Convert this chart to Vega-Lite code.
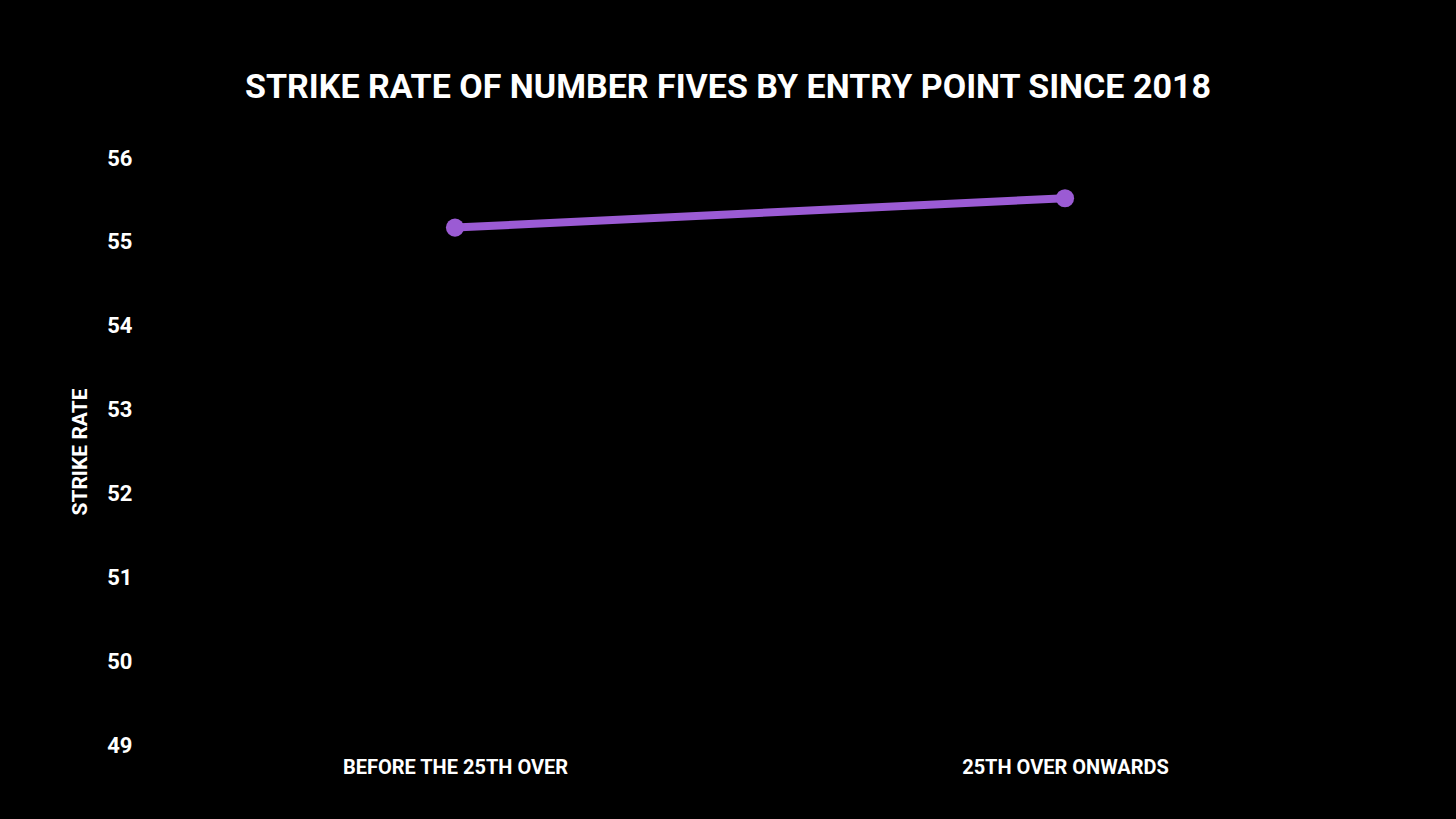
{
  "$schema": "https://vega.github.io/schema/vega-lite/v6.json",
  "autosize": "none",
  "width": 1220,
  "height": 587,
  "padding": {"left": 150, "top": 158, "right": 86, "bottom": 74},
  "background": "#000000",
  "config": {
    "view": {"stroke": null},
    "font": "Roboto",
    "axis": {"grid": false, "domain": false, "ticks": false, "labelColor": "#ffffff", "titleColor": "#ffffff", "labelFont": "Roboto", "titleFont": "Roboto", "labelFontWeight": "bold", "titleFontWeight": "bold"}
  },
  "title": {
    "text": "STRIKE RATE OF NUMBER FIVES BY ENTRY POINT SINCE 2018",
    "color": "#ffffff",
    "font": "Roboto",
    "fontWeight": "bold",
    "fontSize": 34,
    "anchor": "middle",
    "dx": -32,
    "offset": 42
  },
  "data": {
    "values": [
      {"entry": "BEFORE THE 25TH OVER", "sr": 55.17},
      {"entry": "25TH OVER ONWARDS", "sr": 55.52}
    ]
  },
  "encoding": {
    "x": {
      "field": "entry",
      "type": "nominal",
      "sort": null,
      "scale": {"type": "point", "padding": 0.5},
      "axis": {"title": null, "labelAngle": 0, "labelFontSize": 20, "labelPadding": 12, "labelLimit": 0}
    },
    "y": {
      "field": "sr",
      "type": "quantitative",
      "scale": {"domain": [49, 56], "nice": false, "zero": false},
      "axis": {"title": "STRIKE RATE", "values": [49, 50, 51, 52, 53, 54, 55, 56], "labelFontSize": 22, "labelPadding": 18, "titleFontSize": 21, "titlePadding": 16}
    }
  },
  "layer": [
    {"mark": {"type": "line", "color": "#9b5bd4", "strokeWidth": 8}},
    {"mark": {"type": "point", "filled": true, "opacity": 1, "color": "#9b5bd4", "size": 330}}
  ]
}
